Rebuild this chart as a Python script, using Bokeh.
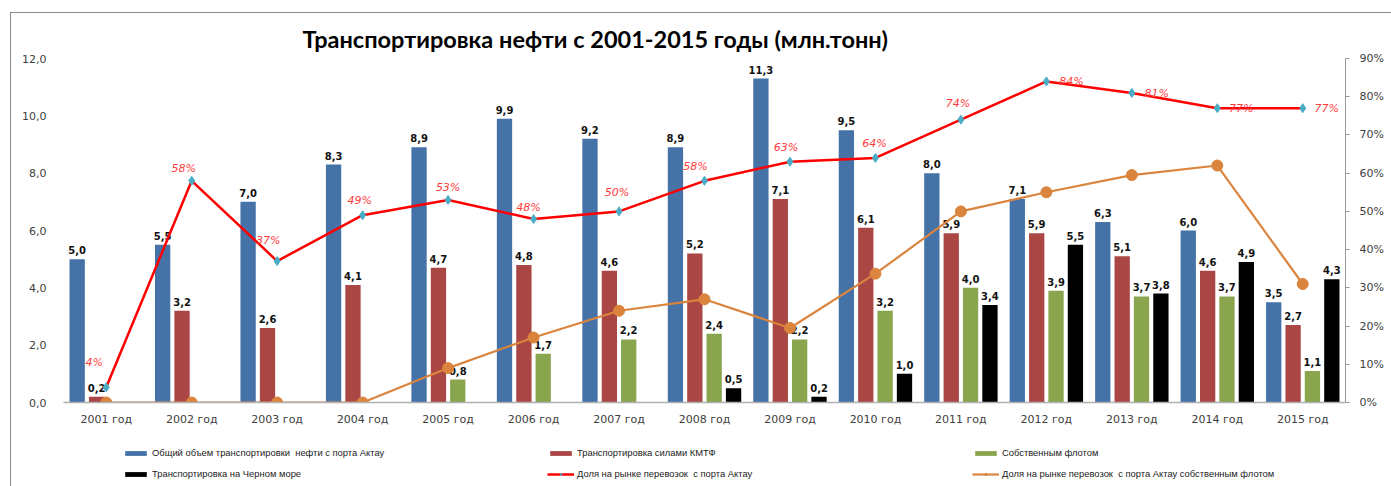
from bokeh.plotting import figure
from bokeh.models import (ColumnDataSource, FactorRange, Range1d, LinearAxis,
                          Legend, LegendItem, NumeralTickFormatter, CustomJSTickFormatter,
                          FixedTicker)
from bokeh.layouts import column
from bokeh.transform import dodge
from bokeh.core.properties import value
from bokeh.embed import file_html
from bokeh.resources import INLINE

years = ["2001 год", "2002 год", "2003 год", "2004 год", "2005 год", "2006 год", "2007 год",
         "2008 год", "2009 год", "2010 год", "2011 год", "2012 год", "2013 год", "2014 год", "2015 год"]
total = [5.0, 5.5, 7.0, 8.3, 8.9, 9.9, 9.2, 8.9, 11.3, 9.5, 8.0, 7.1, 6.3, 6.0, 3.5]
kmtf = [0.2, 3.2, 2.6, 4.1, 4.7, 4.8, 4.6, 5.2, 7.1, 6.1, 5.9, 5.9, 5.1, 4.6, 2.7]
own_fleet = [0, 0, 0, 0, 0.8, 1.7, 2.2, 2.4, 2.2, 3.2, 4.0, 3.9, 3.7, 3.7, 1.1]
black_sea = [0, 0, 0, 0, 0, 0, 0, 0.5, 0.2, 1.0, 3.4, 5.5, 3.8, 4.9, 4.3]
share = [4, 58, 37, 49, 53, 48, 50, 58, 63, 64, 74, 84, 81, 77, 77]
own_share = [0, 0, 0, 0, 9, 17, 24, 27, 19.5, 33.7, 50, 55, 59.5, 62, 31]

labels = ["Общий объем транспортировки  нефти с порта Актау",
          "Транспортировка силами КМТФ",
          "Собственным флотом",
          "Транспортировка на Черном море",
          "Доля на рынке перевозок  с порта Актау",
          "Доля на рынке перевозок  с порта Актау собственным флотом"]
title_text = "Транспортировка нефти с 2001-2015 годы (млн.тонн)"

# label offsets (px, right / up) for percent labels
pct_dx = [-12, -8, -9, -3, 0, -5, -2, -9, -4, -1, -3, 25, 25, 24, 24]
pct_dy = [25, 12, 21, 15, 12, 12, 19, 14, 14, 14, 16, 0, -1, 0, 0]

C_BLUE, C_RED, C_GREEN, C_BLACK = "#4572A7", "#AA4643", "#89A54E", "#000000"
C_LINE, C_DIAM, C_ORANGE = "#FF0000", "#4BACC6", "#DB843D"

W_ALL, H_MAIN, H_LEG = 1380, 419, 54

p = figure(width=W_ALL, height=H_MAIN, x_range=FactorRange(factors=years, range_padding=0),
           y_range=Range1d(0, 12), output_backend="svg", toolbar_location=None,
           min_border_left=52, min_border_right=46, min_border_top=45, min_border_bottom=30)
p.extra_y_ranges = {"pct": Range1d(0, 0.9)}
p.outline_line_color = None
p.xgrid.grid_line_color = None
p.ygrid.grid_line_color = None

p.title.text = title_text
p.title.align = "left"
p.title.offset = 239
p.title.standoff = 12
p.title.text_font = "Lato"
p.title.text_font_style = "bold"
p.title.text_font_size = "23.5px"
p.title.text_color = "#000000"

src = ColumnDataSource(dict(x=years, total=total, kmtf=kmtf, own=own_fleet, black=black_sea,
                            share=[s / 100 for s in share], own_share=[s / 100 for s in own_share],
                            pct_txt=[f"{s}%" for s in share], dx=pct_dx, dy=[-d for d in pct_dy]))

W = 0.179
offs = [-0.34, -0.113, 0.113, 0.34]
series = [("total", C_BLUE), ("kmtf", C_RED), ("own", C_GREEN), ("black", C_BLACK)]
for (col, colr), o in zip(series, offs):
    p.vbar(x=dodge("x", o, range=p.x_range), top=col, width=W, source=src,
           fill_color=colr, line_color=None)

# bar value labels
for (col, colr), o, vals in zip(series, offs, [total, kmtf, own_fleet, black_sea]):
    xs = [y for y, v in zip(years, vals) if v > 0]
    vs = [v for v in vals if v > 0]
    ls = ColumnDataSource(dict(x=xs, y=vs, t=[f"{v:.1f}".replace(".", ",") for v in vs]))
    p.text(x=dodge("x", o, range=p.x_range), y="y", text="t", source=ls,
           text_font=value("DejaVu Sans"), text_font_style="bold", text_font_size="10px",
           text_color="#111111", text_align="center", text_baseline="bottom", y_offset=-5)

# lines
p.line(x="x", y="share", source=src, y_range_name="pct", line_color=C_LINE, line_width=2.5)
p.scatter(x="x", y="share", source=src, y_range_name="pct", marker="diamond", size=9,
          fill_color=C_DIAM, line_color=C_DIAM)
p.line(x="x", y="own_share", source=src, y_range_name="pct", line_color=C_ORANGE, line_width=2.2)
p.scatter(x="x", y="own_share", source=src, y_range_name="pct", marker="circle", size=11,
          fill_color=C_ORANGE, line_color=C_ORANGE)

p.text(x="x", y="share", text="pct_txt", source=src, y_range_name="pct",
       x_offset="dx", y_offset="dy", text_font=value("DejaVu Sans"), text_font_style="italic",
       text_font_size="11px", text_color="#FF3B3B", text_align="center", text_baseline="middle")

# axes
yax = p.yaxis[0]
yax.ticker = FixedTicker(ticks=[0, 2, 4, 6, 8, 10, 12])
yax.formatter = CustomJSTickFormatter(code="return tick.toFixed(1).replace('.', ',');")
yax.axis_line_color = None
yax.major_tick_line_color = None
yax.minor_tick_line_color = None
yax.major_label_standoff = 11
yax.major_label_text_font = "DejaVu Sans"
yax.major_label_text_font_size = "11px"
yax.major_label_text_color = "#404040"

rax = LinearAxis(y_range_name="pct", ticker=FixedTicker(ticks=[i / 10 for i in range(10)]),
                 formatter=NumeralTickFormatter(format="0%"))
rax.axis_line_color = "#9A9A9A"
rax.major_tick_line_color = "#9A9A9A"
rax.major_tick_in = 0
rax.major_tick_out = 4
rax.minor_tick_line_color = None
rax.major_label_standoff = 10
rax.major_label_text_font = "DejaVu Sans"
rax.major_label_text_font_size = "11px"
rax.major_label_text_color = "#404040"
p.add_layout(rax, "right")

xax = p.xaxis[0]
xax.axis_line_color = "#B0B0B0"
xax.axis_line_width = 1.5
xax.major_tick_line_color = None
xax.minor_tick_line_color = None
xax.major_label_standoff = 4
xax.major_label_text_font = "DejaVu Sans"
xax.major_label_text_font_size = "11px"
xax.major_label_text_color = "#404040"

# legend strip: sample glyphs are empty (zero height / single point / above the strip)
q = figure(width=W_ALL, height=H_LEG, x_range=Range1d(0, 1), y_range=Range1d(0, 1),
           output_backend="svg", toolbar_location=None, x_axis_type=None, y_axis_type=None,
           min_border=0, min_border_left=0, min_border_right=0, min_border_top=0,
           min_border_bottom=0)
q.outline_line_color = None
q.xgrid.grid_line_color = None
q.ygrid.grid_line_color = None
mid = [0.5]
zero = [0.0]
hidden = [3.0]
r_total = q.vbar(x=mid, top=zero, bottom=zero, width=0.0, fill_color=C_BLUE, line_color=None)
r_kmtf = q.vbar(x=mid, top=zero, bottom=zero, width=0.0, fill_color=C_RED, line_color=None)
r_own = q.vbar(x=mid, top=zero, bottom=zero, width=0.0, fill_color=C_GREEN, line_color=None)
r_black = q.vbar(x=mid, top=zero, bottom=zero, width=0.0, fill_color=C_BLACK, line_color=None)
r_l1 = q.line(x=mid, y=hidden, line_color=C_LINE, line_width=2.5)
r_m1 = q.scatter(x=mid, y=hidden, marker="diamond", size=9, fill_color=C_DIAM, line_color=C_DIAM)
r_l2 = q.line(x=mid, y=hidden, line_color=C_ORANGE, line_width=2.2)
r_m2 = q.scatter(x=mid, y=hidden, marker="circle", size=7, fill_color=C_ORANGE, line_color=C_ORANGE)

items = [LegendItem(label=labels[0], renderers=[r_total]),
         LegendItem(label=labels[1], renderers=[r_kmtf]),
         LegendItem(label=labels[2], renderers=[r_own]),
         LegendItem(label=labels[3], renderers=[r_black]),
         LegendItem(label=labels[4], renderers=[r_l1, r_m1]),
         LegendItem(label=labels[5], renderers=[r_l2, r_m2])]
lg = Legend(items=items, location=(59, 7), orientation="horizontal", ncols=3,
            label_text_font="Liberation Sans", label_text_font_size="9.4px",
            label_text_color="#222222", glyph_width=27, glyph_height=6,
            label_height=10, label_width=385, spacing=10, padding=0, margin=0,
            label_standoff=3, background_fill_alpha=0, border_line_color=None)
q.add_layout(lg, "center")

layout = column(p, q, spacing=0, margin=(12, 0, 0, 10),
                styles={"border-top": "1px solid #8C8C8C", "border-left": "1px solid #8C8C8C"})

open("out.html", "w").write(file_html(layout, INLINE))
